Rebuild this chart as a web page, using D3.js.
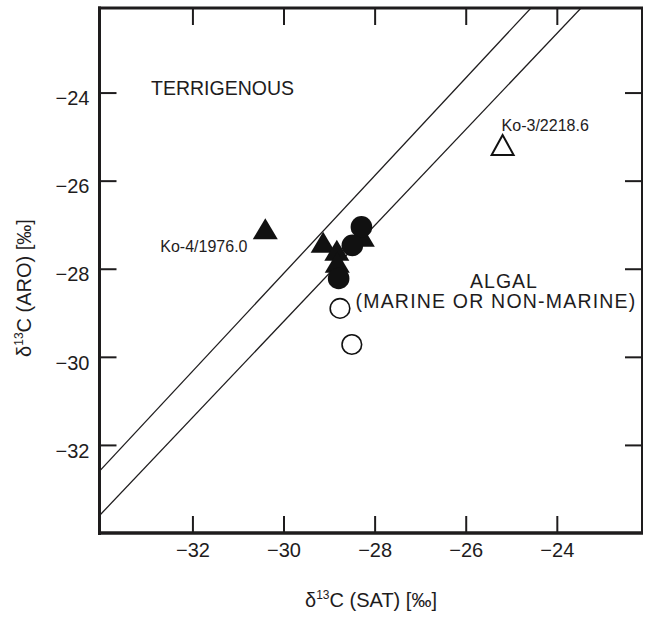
<!DOCTYPE html>
<html>
<head>
<meta charset="utf-8">
<script src="https://cdn.jsdelivr.net/npm/d3@7"></script>
<style>
  html, body { margin: 0; padding: 0; background: #fff; }
  svg { display: block; font-family: "Liberation Sans", Arial, sans-serif; }
</style>
</head>
<body>
<svg id="chart" width="645" height="617"></svg>
<script>
// ---- data ----
const xTicks = [-32, -30, -28, -26, -24];
const yTicks = [-32, -30, -28, -26, -24];
const xDomain = [-34.04, -22.13];
const yDomain = [-34.0, -22.08];

// separation lines: d13C(ARO) = slope * d13C(SAT) + intercept
const lineSlopes = [1.11, 1.09];
const lineIntercepts = [5.19, 3.5];

const filledTriangles = [
  {x: -30.40, y: -27.09},
  {x: -29.13, y: -27.40},
  {x: -28.83, y: -27.58},
  {x: -28.82, y: -27.85},
  {x: -28.27, y: -27.26}
];
const filledCircles = [
  {x: -28.29, y: -27.05},
  {x: -28.49, y: -27.47},
  {x: -28.79, y: -28.22}
];
const openCircles = [
  {x: -28.76, y: -28.90},
  {x: -28.50, y: -29.72}
];
const openTriangles = [
  {x: -25.19, y: -25.19}
];
const annotations = [
  {text: "Ko-4/1976.0", x: -30.40, y: -27.09},
  {text: "Ko-3/2218.6", x: -25.19, y: -25.19}
];

// ---- layout ----
const svg = d3.select("#chart");
const ink = "#1e1c1d";
const x = d3.scaleLinear().domain(xDomain).range([99.5, 642]);
const y = d3.scaleLinear().domain(yDomain).range([533, 8]);
const [x0, x1] = x.range();
const [y0, y1] = y.range();

svg.append("defs").append("clipPath").attr("id", "plotclip")
  .append("rect").attr("x", x0).attr("y", y1).attr("width", x1 - x0).attr("height", y0 - y1);

// separation lines
const plot = svg.append("g").attr("clip-path", "url(#plotclip)");
lineSlopes.forEach((s, i) => {
  const b = lineIntercepts[i];
  plot.append("line")
    .attr("x1", x(xDomain[0])).attr("y1", y(s * xDomain[0] + b))
    .attr("x2", x(xDomain[1])).attr("y2", y(s * xDomain[1] + b))
    .attr("stroke", ink).attr("stroke-width", 1.3);
});

// axes (ticks inward)
const tickLen = 17;
const fs = 20;
const gB = svg.append("g").attr("transform", `translate(0,${y0})`)
  .call(d3.axisBottom(x).tickValues(xTicks).tickSize(-tickLen).tickPadding(10).tickFormat(d => "\u2212" + Math.abs(d)));
const gT = svg.append("g").attr("transform", `translate(0,${y1})`)
  .call(d3.axisTop(x).tickValues(xTicks).tickSize(-tickLen).tickFormat(""));
const gL = svg.append("g").attr("transform", `translate(${x0},0)`)
  .call(d3.axisLeft(y).tickValues(yTicks).tickSize(-tickLen).tickPadding(10).tickFormat(d => "\u2212" + Math.abs(d)));
const gR = svg.append("g").attr("transform", `translate(${x1},0)`)
  .call(d3.axisRight(y).tickValues(yTicks).tickSize(-tickLen).tickFormat(""));
[gB, gT, gL, gR].forEach(g => {
  g.select(".domain").remove();
  g.selectAll(".tick line").attr("stroke", ink).attr("stroke-width", 2);
  g.selectAll(".tick text").attr("fill", ink).attr("font-size", fs).attr("font-family", "Liberation Sans, Arial, sans-serif");
});
gB.selectAll(".tick text").attr("dy", "0.71em");
gL.selectAll(".tick text").attr("dy", "0.61em");

// frame
svg.append("line").attr("x1", x0).attr("x2", x0).attr("y1", y1 - 1.5).attr("y2", y0 + 2).attr("stroke", ink).attr("stroke-width", 3);
svg.append("line").attr("x1", x0 - 1.5).attr("x2", x1 + 1).attr("y1", y0).attr("y2", y0).attr("stroke", ink).attr("stroke-width", 3.5);
svg.append("line").attr("x1", x0 - 1.5).attr("x2", x1 + 1).attr("y1", y1).attr("y2", y1).attr("stroke", ink).attr("stroke-width", 3);
svg.append("line").attr("x1", x1).attr("x2", x1).attr("y1", y1).attr("y2", y0).attr("stroke", ink).attr("stroke-width", 2);

// markers
const triW = 25, triH = 21;
const triPath = d => `M${x(d.x)},${y(d.y) - triH / 2}L${x(d.x) - triW / 2},${y(d.y) + triH / 2}L${x(d.x) + triW / 2},${y(d.y) + triH / 2}Z`;
const r = 10.3;

svg.append("g").selectAll("path").data(filledTriangles).join("path")
  .attr("d", triPath).attr("fill", "#111");
svg.append("g").selectAll("circle").data(filledCircles).join("circle")
  .attr("cx", d => x(d.x)).attr("cy", d => y(d.y)).attr("r", r + 0.5).attr("fill", "#111");
svg.append("g").selectAll("circle").data(openCircles).join("circle")
  .attr("cx", d => x(d.x)).attr("cy", d => y(d.y)).attr("r", r - 0.5)
  .attr("fill", "#fff").attr("stroke", "#111").attr("stroke-width", 1.6);
svg.append("g").selectAll("path").data(openTriangles).join("path")
  .attr("d", d => {
    const w = 22, h = 20;
    return `M${x(d.x)},${y(d.y) - h / 2}L${x(d.x) - w / 2},${y(d.y) + h / 2}L${x(d.x) + w / 2},${y(d.y) + h / 2}Z`;
  })
  .attr("fill", "none").attr("stroke", "#111").attr("stroke-width", 2).attr("stroke-linejoin", "miter");

// annotation labels
svg.append("text").attr("x", x(annotations[0].x) - 105).attr("y", y(annotations[0].y) + 23)
  .attr("font-size", 16).attr("fill", ink).text(annotations[0].text);
svg.append("text").attr("x", x(annotations[1].x) - 1).attr("y", y(annotations[1].y) - 14)
  .attr("font-size", 16).attr("fill", ink).text(annotations[1].text);

// region labels
svg.append("text").attr("x", 151).attr("y", 95).attr("font-size", 19.5).attr("fill", ink).text("TERRIGENOUS");
svg.append("text").attr("x", 504).attr("y", 288).attr("text-anchor", "middle").attr("font-size", 19.5)
  .attr("letter-spacing", 1).attr("fill", ink).text("ALGAL");
svg.append("text").attr("x", 496).attr("y", 308).attr("text-anchor", "middle").attr("font-size", 19.5)
  .attr("letter-spacing", 1.2).attr("fill", ink).text("(MARINE OR NON-MARINE)");

// axis titles
function title(g, rest) {
  const t = g.append("text").attr("text-anchor", "middle").attr("font-size", 20).attr("fill", ink);
  t.append("tspan").text("\u03B4");
  t.append("tspan").attr("font-size", 12).attr("dy", -8).text("13");
  t.append("tspan").attr("dy", 8).text(rest);
  return t;
}
title(svg.append("g").attr("transform", "translate(371,607)"), "C (SAT) [\u2030]");
title(svg.append("g").attr("transform", "translate(31,288) rotate(-90)"), "C (ARO) [\u2030]");
</script>
</body>
</html>
